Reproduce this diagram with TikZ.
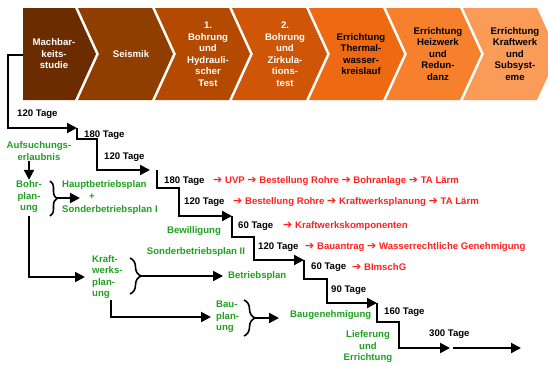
\documentclass[tikz,border=0pt]{standalone}
\usepackage{fontspec}
\setmainfont{Liberation Sans}
\newfontfamily\pfeilfont{DejaVu Sans}
\usetikzlibrary{arrows.meta,decorations.pathreplacing}
\definecolor{phaseA}{HTML}{6B2D00}
\definecolor{phaseB}{HTML}{903D00}
\definecolor{phaseC}{HTML}{B34A00}
\definecolor{phaseD}{HTML}{CF5606}
\definecolor{phaseE}{HTML}{EE6A12}
\definecolor{phaseF}{HTML}{F7802C}
\definecolor{phaseG}{HTML}{FA9B57}
\definecolor{amtgruen}{HTML}{1FA11F}
\definecolor{signalrot}{HTML}{FF2020}
\newcommand{\weiter}{{\pfeilfont\bfseries\fontsize{11}{11}\selectfont ➔}}

\begin{document}
\begin{tikzpicture}[x=1pt,y=-1pt,
  schrift/.style={font=\bfseries\fontsize{9.6}{11.5}\selectfont,inner sep=1pt},
  phasetext/.style={schrift,align=center},
  tage/.style={schrift,anchor=west},
  folge/.style={schrift,anchor=west,text=signalrot},
  amt/.style={schrift,text=amtgruen,align=center},
  treppe/.style={line width=2pt,-{Triangle[length=10pt,width=10pt]}},
  klammer/.style={line width=1.6pt,decorate,decoration={brace,amplitude=#1}}]
\useasboundingbox (0,0) rectangle (548,365);
\fill[phaseA] (23,8) -- (75,8) -- (96,54) -- (75,100) -- (23,100) -- cycle;
\fill[phaseB] (78,8) -- (152,8) -- (173,54) -- (152,100) -- (78,100) -- (99,54) -- cycle;
\fill[phaseC] (155,8) -- (229,8) -- (250,54) -- (229,100) -- (155,100) -- (176,54) -- cycle;
\fill[phaseD] (232,8) -- (306,8) -- (327,54) -- (306,100) -- (232,100) -- (253,54) -- cycle;
\fill[phaseE] (309,8) -- (383,8) -- (404,54) -- (383,100) -- (309,100) -- (330,54) -- cycle;
\fill[phaseF] (386,8) -- (460,8) -- (481,54) -- (460,100) -- (386,100) -- (407,54) -- cycle;
\fill[phaseG] (463,8) -- (537,8) -- (558,54) -- (537,100) -- (463,100) -- (484,54) -- cycle;
\node[phasetext,text=white] (p1) at (54,54) {Machbar-\\keits-\\studie};
\node[phasetext,text=white] (p2) at (131,54) {Seismik};
\node[phasetext,text=white] (p3) at (208,54) {1.\\Bohrung\\und\\Hydrauli-\\scher\\Test};
\node[phasetext,text=white] (p4) at (285,54) {2.\\Bohrung\\und\\Zirkula-\\tions-\\test};
\node[phasetext] (p5) at (361,54) {Errichtung\\Thermal-\\wasser-\\kreislauf};
\node[phasetext] (p6) at (438,54) {Errichtung\\Heizwerk\\und\\Redun-\\danz};
\node[phasetext] (p7) at (515,54) {Errichtung\\Kraftwerk\\und\\Subsyst-\\eme};

\coordinate (s0) at (23,55);
\coordinate (s1) at (77,128);
\coordinate (s2) at (150,170);
\coordinate (s3) at (232,216);
\coordinate (s4) at (304,260);
\coordinate (s5) at (377,303);
\coordinate (s6) at (450,348);
\coordinate (s7) at (521,348);
\draw[treppe] (s0) -- ++(-15,0) |- (s1);
\draw[treppe] (s1) -- ++(0,11) -- ++(20,0) |- (s2);
\draw[treppe] ([xshift=7pt]s2) -- ++(0,18) -- ++(22,0) |- (s3);
\draw[treppe] (s3) -- ++(0,21) -- ++(22,0) |- (s4);
\draw[treppe] (s4) -- ++(0,19) -- ++(23,0) |- (s5);
\draw[treppe] (s5) -- ++(0,19) -- ++(22,0) |- (s6);
\draw[treppe] ([xshift=3pt]s6) -- (s7);

\node[tage] (t1) at (16,114) {120 Tage};
\node[tage] (t2) at (83,135) {180 Tage};
\node[tage] (t3) at (103,157) {120 Tage};
\node[tage] (t4) at (163,181) {180 Tage};
\node[tage] (t5) at (183,202) {120 Tage};
\node[tage] (t6) at (237,226) {60 Tage};
\node[tage] (t7) at (257,247) {120 Tage};
\node[tage] (t8) at (310,267) {60 Tage};
\node[tage] (t9) at (330,290) {90 Tage};
\node[tage] (t10) at (383,312) {160 Tage};
\node[tage] (t11) at (428,334) {300 Tage};
\node[folge] (r4) at (212,181) {\weiter{} UVP \weiter{} Bestellung Rohre \weiter{} Bohranlage \weiter{} TA Lärm};
\node[folge] (r5) at (232,202) {\weiter{} Bestellung Rohre \weiter{} Kraftwerksplanung \weiter{} TA Lärm};
\node[folge] (r6) at (282,226) {\weiter{} Kraftwerkskomponenten};
\node[folge] (r7) at (304,247) {\weiter{} Bauantrag \weiter{} Wasserrechtliche Genehmigung};
\node[folge] (r8) at (351,267) {\weiter{} BImschG};

\node[amt] (g1) at (39,151) {Aufsuchungs-\\erlaubnis};
\node[amt] (g2) at (29,197) {Bohr-\\plan-\\ung};
\node[amt,anchor=west] (g3) at (61,185) {Hauptbetriebsplan};
\node[amt] (plus) at (92,197) {+};
\node[amt,anchor=west] (g3b) at (61,210) {Sonderbetriebsplan I};
\node[amt,anchor=west,align=left] (g4) at (91,277) {Kraft-\\werks-\\plan-\\ung};
\node[amt,anchor=west] (g5) at (227,276) {Betriebsplan};
\node[amt] (g6) at (196,252) {Sonderbetriebsplan II};
\node[amt] (g7) at (194,231) {Bewilligung};
\node[amt,anchor=west,align=left] (g8) at (215,317) {Bau-\\plan-\\ung};
\node[amt,anchor=west] (g9) at (289,315) {Baugenehmigung};
\node[amt] (g10) at (368,347) {Lieferung\\und\\Errichtung};

\draw[klammer=7pt] (50,181) -- (50,216);
\coordinate (k1) at (57,198);
\draw[klammer=11pt] (130,258) -- (130,294);
\coordinate (k2) at (141,276);
\draw[klammer=11pt] (244,300) -- (244,336);
\coordinate (k3) at (255,318);

\draw[treppe] (g2.north |- g1.south) -- (g2.north);
\draw[treppe,shorten >=8pt] (k1) -- (plus.west |- k1);
\draw[treppe,shorten <=2pt,shorten >=6pt] (g2.south) |- (g4.west);
\draw[treppe,shorten >=4pt] (k2) -- (g5.west |- k2);
\draw[treppe,shorten >=4pt] ([xshift=4pt]g4.south) |- (g8.west);
\draw[treppe,shorten >=10pt] (k3) -- (g9.west |- k3);
\end{tikzpicture}
\end{document}
